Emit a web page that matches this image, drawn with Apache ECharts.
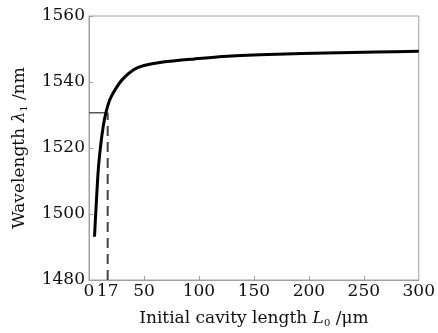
<!DOCTYPE html>
<html>
<head>
<meta charset="utf-8">
<script src="https://cdn.jsdelivr.net/npm/echarts@6/dist/echarts.min.js"></script>
<style>
html,body{margin:0;padding:0;background:#fff;}
#chart{width:438px;height:333px;}
</style>
</head>
<body>
<div id="chart"></div>
<script>
// Data
var cavityLength = [5.0, 6.7, 8.5, 10.6, 13, 15.4, 19, 23.8, 30.4, 40.9, 50, 66, 96, 126, 171, 216, 261, 300];
var wavelength = [1493.1, 1503.7, 1513.7, 1520.7, 1526.7, 1530.7, 1534.7, 1537.7, 1540.8, 1543.8, 1545.0, 1546.0, 1547.0, 1547.8, 1548.4, 1548.8, 1549.1, 1549.3];
var markerLength = 17;
var markerWavelength = 1530.7;
var xLabelValues = [0, 17, 50, 100, 150, 200, 250, 300];
var xTickValues = [50, 100, 150, 200, 250];
var yMin = 1480, yMax = 1560, yStep = 20;
var xMin = 0, xMax = 300;

var curve = cavityLength.map(function (v, i) { return [v, wavelength[i]]; });
var hLine = [[xMin, markerWavelength], [markerLength, markerWavelength]];
var vLine = [[markerLength, yMin], [markerLength, markerWavelength]];

var font = 'DejaVu Serif';
var fs = 17;
var richName = {
  t: {fontFamily: font, fontSize: fs, color: '#111'},
  i: {fontFamily: font, fontSize: fs, fontStyle: 'italic', color: '#111'},
  s: {fontFamily: font, fontSize: 10, color: '#111', padding: [9, 0, 0, 0]}
};
var chart = echarts.init(document.getElementById('chart'), null, {renderer: 'canvas'});
chart.setOption({
  animation: false,
  grid: {left: 89, right: 14, top: 16, bottom: 51, show: true, borderColor: '#a0a0a0', borderWidth: 1},
  xAxis: {
    type: 'value', min: xMin, max: xMax,
    axisLine: {show: true, lineStyle: {color: '#a0a0a0', width: 1}},
    axisTick: {show: true, inside: true, length: 4, customValues: xTickValues, lineStyle: {color: '#a0a0a0'}},
    axisLabel: {customValues: xLabelValues, hideOverlap: false, margin: 3, color: '#111', fontFamily: font, fontSize: fs},
    splitLine: {show: false},
    name: '{t|Initial cavity length }{i|L}{s|0}{t| /μm}',
    nameLocation: 'middle', nameGap: 29,
    nameTextStyle: {rich: richName}
  },
  yAxis: {
    type: 'value', min: yMin, max: yMax, interval: yStep,
    axisLine: {show: true, lineStyle: {color: '#a0a0a0', width: 1}},
    axisTick: {show: true, inside: true, length: 4, lineStyle: {color: '#a0a0a0'}},
    axisLabel: {margin: 4, color: '#111', fontFamily: font, fontSize: fs, formatter: function (v) { return String(v); }},
    splitLine: {show: false},
    name: '{t|Wavelength }{i|λ}{s|1}{t| /nm}',
    nameLocation: 'middle', nameGap: 60, nameRotate: 90,
    nameTextStyle: {rich: richName}
  },
  series: [
    {type: 'line', data: hLine, showSymbol: false, lineStyle: {color: '#555', width: 1.5}, z: 2},
    {type: 'line', data: vLine, showSymbol: false, lineStyle: {color: '#444', width: 2, type: [10, 6]}, z: 2},
    {type: 'line', data: curve, showSymbol: false, smooth: 0.3, lineStyle: {color: '#000', width: 3}, z: 3}
  ]
});
</script>
</body>
</html>
